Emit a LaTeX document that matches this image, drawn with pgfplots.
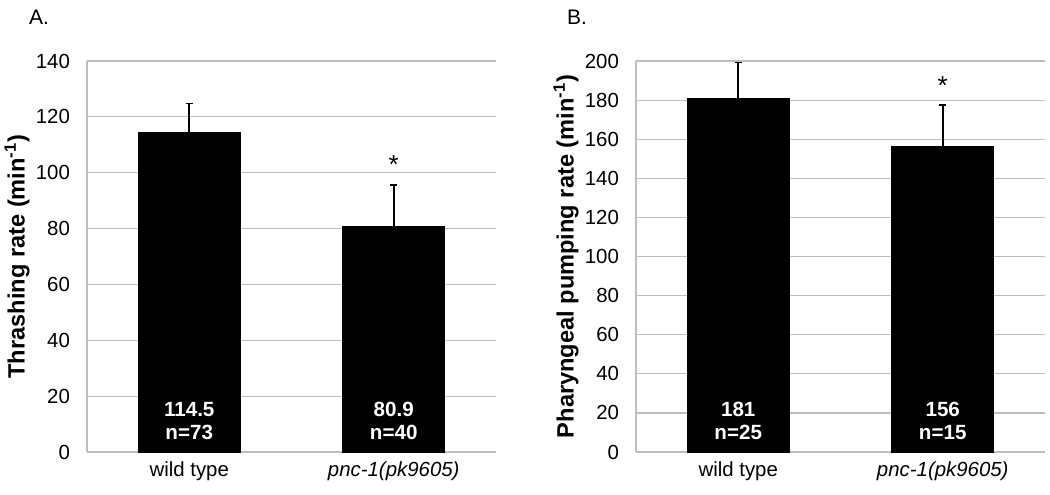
\documentclass[border=0pt]{standalone}
\usepackage{fontspec}
\setmainfont{Liberation Sans}
\usepackage{pgfplots}
\pgfplotsset{compat=1.18}
\definecolor{gridgray}{RGB}{190,190,190}
\pgfplotsset{
  panel/.style={
    scale only axis, width=204.5pt, height=195.5pt,
    ybar, bar width=51pt,
    xmin=-0.5, xmax=1.5, ymin=0,
    xtick={0,1}, xticklabels={wild type, \textit{pnc-1(pk9605)}},
    axis x line*=bottom, axis y line*=left,
    axis line style={gridgray, line width=0.8pt, -},
    ymajorgrids, grid style={gridgray, line width=0.6pt},
    major tick length=0pt,
    tick label style={font=\fontsize{10.2}{11}\selectfont},
    /pgf/number format/assume math mode=true,
    yticklabel style={xshift=-5pt},
    xticklabel style={yshift=-1.5pt},
    y label style={at={(axis description cs:-0.171,0.5)}, anchor=center,
      font=\bfseries\fontsize{11.8}{13}\selectfont},
    clip=false,
  },
  errbar/.style={fill=black, draw=black,
    error bars/.cd, y dir=plus, y explicit,
    error bar style={black, line width=0.8pt},
    error mark options={rotate=90, mark size=1.75pt, line width=0.8pt}},
}
\tikzset{
  inlabel/.style={text=white, font=\bfseries\fontsize{10.3}{11.2}\selectfont, align=center},
  star/.style={font=\fontsize{13}{13}\selectfont}
}
\begin{document}
\begin{tikzpicture}
\useasboundingbox (0,0) rectangle (525pt,247pt);
\node[anchor=west, font=\fontsize{10.5}{12}\selectfont] at (11pt,238.5pt) {A.};
\node[anchor=west, font=\fontsize{10.5}{12}\selectfont] at (280pt,238.5pt) {B.};

% panel A: thrashing
\begin{axis}[panel, at={(43.5pt,21pt)}, anchor=south west,
  ymax=140, ytick={0,20,...,140},
  ylabel={Thrashing rate (min\textsuperscript{-1})}]
\addplot[errbar] coordinates {(0,114.5) +- (0,10.3) (1,80.9) +- (0,14.6)};
\node[inlabel] at (axis cs:0,11.1) {114.5\\n=73};
\node[inlabel] at (axis cs:1,11.1) {80.9\\n=40};
\node[star] at (axis cs:1,103) {*};
\end{axis}

% panel B: pharyngeal pumping
\begin{axis}[panel, at={(318pt,21pt)}, anchor=south west,
  ymax=200, ytick={0,20,...,200},
  ylabel={Pharyngeal pumping rate (min\textsuperscript{-1})}]
\addplot[errbar] coordinates {(0,180.7) +- (0,18.5) (1,156.2) +- (0,21.3)};
\node[inlabel] at (axis cs:0,15.9) {181\\n=25};
\node[inlabel] at (axis cs:1,15.9) {156\\n=15};
\node[star] at (axis cs:1,187.5) {*};
\end{axis}
\end{tikzpicture}
\end{document}
